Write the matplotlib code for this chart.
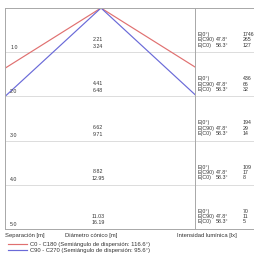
import numpy as np
import matplotlib
matplotlib.use("Agg")
import matplotlib.pyplot as plt
from matplotlib.lines import Line2D

plt.rcParams['font.family'] = ['Liberation Sans', 'DejaVu Sans']

# datos del cono de luz
separacion = [1.0, 2.0, 3.0, 4.0, 5.0]
diam_c90 = [2.21, 4.41, 6.62, 8.82, 11.03]
diam_c0 = [3.24, 6.48, 9.71, 12.95, 16.19]
e_0 = [1746, 436, 194, 109, 70]
e_c90 = [265, 66, 29, 17, 11]
e_c0 = [127, 32, 14, 8, 5]
semiangulo = {"C0 - C180": 116.6, "C90 - C270": 95.6}
colores = {"C0 - C180": "#e07070", "C90 - C270": "#6a6ad8"}

fs = 3.8
fs_lab = 4.2
gris = "#a8a8a8"
txt = "#333333"

fig = plt.figure(figsize=(2.54, 2.54), dpi=100)
ax = fig.add_axes([5/254, 25/254, 190/254, 221/254])
ax2 = fig.add_axes([195/254, 25/254, 105/254, 221/254])

ax.set_xlim(-2.207, 2.161)
ax2.set_xlim(2.161, 4.575)
for a in (ax, ax2):
    a.set_ylim(5.0, 0.0)
    a.set_xticks([])
    a.set_yticks([])
    for s in a.spines.values():
        s.set_color(gris)
        s.set_linewidth(0.7)
    a.spines['right'].set_visible(False)
    for d in separacion[:-1]:
        a.axhline(d, color="#dcdcdc", lw=0.7, zorder=0)

# lineas del cono
handles = []
for nombre, ang in semiangulo.items():
    r = np.tan(np.radians(ang / 2)) * separacion[-1]
    ax.plot([-r, 0, r], [separacion[-1], 0, separacion[-1]],
            color=colores[nombre], lw=0.85)
    handles.append(Line2D([], [], color=colores[nombre], lw=0.85))

for i, d in enumerate(separacion):
    ax.text(-2.09, d - 0.11, f"{d:.1f}", fontsize=fs, color=txt, va='center')
    ax.text(-0.07, d - 0.29, f"{diam_c90[i]:.2f}", fontsize=fs, color=txt,
            va='center', ha='center')
    ax.text(-0.07, d - 0.14, f"{diam_c0[i]:.2f}", fontsize=fs, color=txt,
            va='center', ha='center')
    ax2.text(2.23, d - 0.40, "E(0°)", fontsize=fs, color=txt, va='center')
    ax2.text(2.23, d - 0.28, "E(C90)", fontsize=fs, color=txt, va='center')
    ax2.text(2.23, d - 0.16, "E(C0)", fontsize=fs, color=txt, va='center')
    ax2.text(2.64, d - 0.28, "47.8°", fontsize=fs, color=txt, va='center')
    ax2.text(2.64, d - 0.16, "58.3°", fontsize=fs, color=txt, va='center')
    ax2.text(3.26, d - 0.40, f"{e_0[i]}", fontsize=fs, color=txt, va='center')
    ax2.text(3.26, d - 0.28, f"{e_c90[i]}", fontsize=fs, color=txt, va='center')
    ax2.text(3.26, d - 0.16, f"{e_c0[i]}", fontsize=fs, color=txt, va='center')

fig.text(5/254, 1 - 236/254, "Separación [m]", fontsize=fs_lab, color=txt, va='center')
fig.text(65/254, 1 - 236/254, "Diámetro cónico [m]", fontsize=fs_lab, color=txt, va='center')
fig.text(177/254, 1 - 236/254, "Intensidad lumínica [lx]", fontsize=fs_lab, color=txt, va='center')

etiquetas = [f"{k} (Semiángulo de dispersión: {v}°)" for k, v in semiangulo.items()]
fig.legend(handles, etiquetas, loc='upper left', bbox_to_anchor=(8/254, 1 - 242/254),
           frameon=False, fontsize=fs_lab, handlelength=3.3, handletextpad=0.5,
           labelspacing=0.1, borderpad=0, borderaxespad=0, labelcolor=txt)

fig.savefig("out.png", dpi=100)
